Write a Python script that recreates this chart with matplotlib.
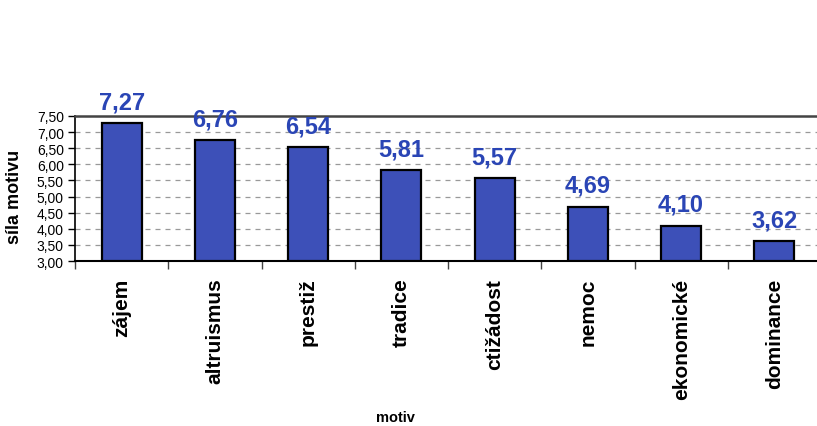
import matplotlib.pyplot as plt
import numpy as np

# motives and their mean strength
motivy = ["zájem", "altruismus", "prestiž", "tradice", "ctižádost",
          "nemoc", "ekonomické", "dominance"]
sila = [7.27, 6.76, 6.54, 5.81, 5.57, 4.69, 4.10, 3.62]
y_ticks = [3.0, 3.5, 4.0, 4.5, 5.0, 5.5, 6.0, 6.5, 7.0, 7.5]
y_min = 3.0

plt.rcParams['font.family'] = ['Liberation Sans', 'DejaVu Sans']

fig = plt.figure(figsize=(8.17, 4.27), dpi=100)
ax = fig.add_axes([75 / 817, 165 / 427, 746 / 817, 145 / 427])

x = np.arange(len(motivy))
# bars start at the axis floor
ax.bar(x, np.array(sila) - y_min, width=0.43, bottom=y_min, color="#3d50b8",
       edgecolor="black", linewidth=1.6, zorder=3)

for xi, v in zip(x, sila):
    ax.annotate(f"{v:.2f}".replace(".", ","), (xi, v), xytext=(0, 7),
                textcoords="offset points", ha="center", va="bottom",
                fontsize=17, fontweight="bold", color="#2a45b5",
                zorder=5, annotation_clip=False)

ax.set_xlim(-0.5, len(motivy) - 0.5)
ax.set_ylim(y_min, 7.5)
ax.set_yticks(y_ticks)
ax.set_yticklabels([f"{t:.2f}".replace(".", ",") for t in y_ticks], fontsize=10)

ax.set_xticks(x)
ax.set_xticklabels(motivy, rotation=90, fontsize=15, fontweight="bold",
                   va="top", ha="center")
ax.set_xticks(np.arange(len(motivy) + 1) - 0.5, minor=True)
ax.tick_params(axis="x", which="major", length=0, pad=12)
ax.tick_params(axis="x", which="minor", length=6, width=1, color="#444444")
ax.tick_params(axis="y", length=5, width=1, pad=3)

ax.yaxis.grid(True, linestyle=(0, (4, 4)), color="#999999", linewidth=0.9, zorder=0)

ax.spines["top"].set_color("#444444")
ax.spines["top"].set_linewidth(1.8)
ax.spines["right"].set_visible(False)
ax.spines["left"].set_linewidth(1.2)
ax.spines["bottom"].set_linewidth(1.5)

fig.text(15 / 817, 1 - 197 / 427, "síla motivu", rotation=90, fontsize=13,
         fontweight="bold", ha="center", va="center")
fig.text(395 / 817, 1 - 418 / 427, "motiv", fontsize=10.5,
         fontweight="bold", ha="center", va="center")

fig.savefig("out.png", dpi=100)
